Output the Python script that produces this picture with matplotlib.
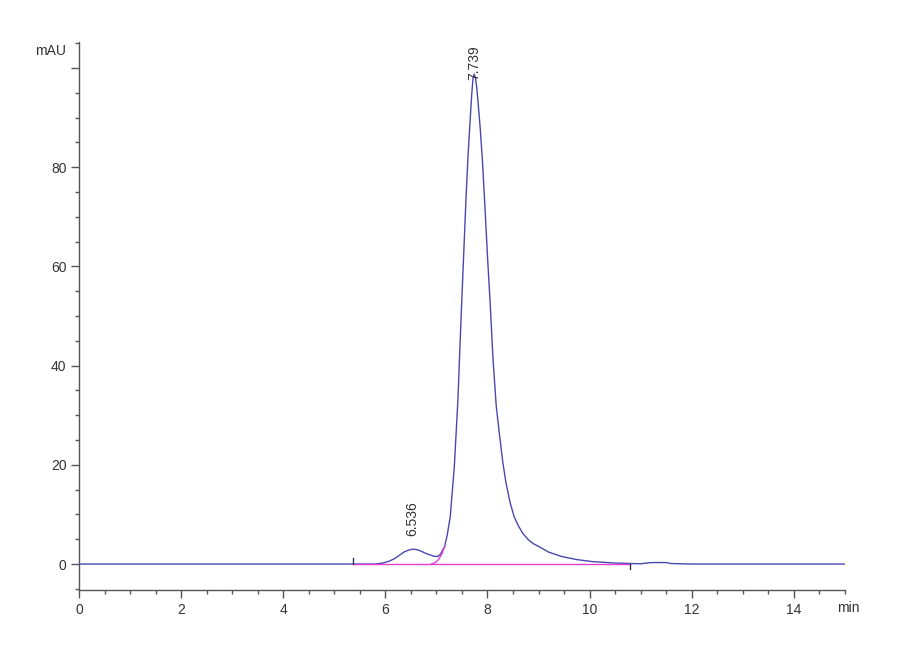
import matplotlib
matplotlib.use("Agg")
import matplotlib.pyplot as plt
from matplotlib.ticker import MultipleLocator

# signal (min, mAU)
tiempo = [0.0, 5.80, 5.95, 6.08, 6.18, 6.28, 6.36, 6.45, 6.536, 6.62, 6.70, 6.78,
          6.86, 6.94, 7.02, 7.08, 7.12, 7.16, 7.21, 7.27, 7.35, 7.42, 7.48, 7.53,
          7.58, 7.62, 7.66, 7.69, 7.715, 7.739, 7.765, 7.79, 7.82, 7.86, 7.90, 7.95,
          8.00, 8.05, 8.11, 8.17, 8.23, 8.30, 8.36, 8.44, 8.52, 8.60, 8.69, 8.80,
          8.90, 9.01, 9.20, 9.46, 9.75, 10.05, 10.5, 11.0, 11.15, 11.25, 11.5, 11.6,
          12.0, 15.0]
senal = [0.0, 0.0, 0.2, 0.6, 1.1, 1.8, 2.4, 2.8, 3.0, 2.9, 2.6, 2.2,
         1.9, 1.6, 1.5, 2.0, 2.8, 3.5, 5.8, 9.5, 19.6, 33.0, 49.0, 61.5,
         74.0, 82.5, 89.5, 94.5, 97.8, 98.8, 98.0, 96.0, 92.5, 87.5, 81.5, 72.0,
         62.0, 53.0, 41.0, 32.0, 26.5, 20.5, 16.5, 12.5, 9.6, 7.8, 6.2, 4.9,
         4.1, 3.5, 2.4, 1.5, 0.9, 0.5, 0.2, 0.05, 0.25, 0.3, 0.3, 0.1,
         0.0, 0.0]

# integration baseline (magenta)
base_t = [5.36, 10.8]
base_v = [0.0, 0.0]
skim_t = [6.90, 6.98, 7.04, 7.10, 7.16]
skim_v = [0.0, 0.3, 0.9, 1.9, 3.5]

# event marks
marcas_t = [5.36, 10.8]
marcas_v = [1.2, -0.9]

picos_t = [6.536, 7.739]
picos_txt = ["6.536", "7.739"]
etiqueta_v = [5.6, 97.6]

fuente = ["Liberation Sans", "DejaVu Sans"]
gris = "#555555"

fig = plt.figure(figsize=(9, 6.6), dpi=100)
ax = fig.add_axes([0.0878, 0.106, 0.851, 0.830])

ax.plot(tiempo, senal, color="#4848b0", lw=1.0, zorder=3)
ax.plot(base_t, base_v, color="#e040d8", lw=1.0, zorder=4)
ax.plot(skim_t, skim_v, color="#e040d8", lw=1.0, zorder=4)
for t, v in zip(marcas_t, marcas_v):
    ax.plot([t, t], [0, v], color="#333355", lw=1.0, zorder=5)

for t, v, txt in zip(picos_t, etiqueta_v, picos_txt):
    ax.text(t, v, txt, rotation=90, ha="center", va="bottom",
            fontsize=10, color="#333333", family=fuente, zorder=6)

ax.set_xlim(0, 15)
ax.set_ylim(-5.24, 105.2)

for lado in ["top", "right"]:
    ax.spines[lado].set_visible(False)
for lado in ["left", "bottom"]:
    ax.spines[lado].set_color(gris)
    ax.spines[lado].set_linewidth(1.0)

ax.xaxis.set_major_locator(MultipleLocator(2))
ax.xaxis.set_minor_locator(MultipleLocator(0.5))
ax.yaxis.set_major_locator(MultipleLocator(20))
ax.yaxis.set_minor_locator(MultipleLocator(5))
ax.tick_params(which="major", length=6, width=1, color=gris, direction="out",
               labelsize=10, labelcolor="#333333", pad=3)
ax.tick_params(which="minor", length=3, width=1, color=gris, direction="out")

ax.set_xticks([0, 2, 4, 6, 8, 10, 12, 14])
ax.set_xticklabels(["0", "2", "4", "6", "8", "10", "12", "14"], family=fuente)
ax.set_yticks([0, 20, 40, 60, 80, 100])
ax.set_yticklabels(["0", "20", "40", "60", "80", ""], family=fuente)

ax.text(-0.25, 103.5, "mAU", ha="right", va="center", fontsize=10,
        color="#333333", family=fuente)
ax.text(14.85, -8.8, "min", ha="left", va="center", fontsize=10,
        color="#333333", family=fuente, clip_on=False)

fig.savefig("out.png", dpi=100)
